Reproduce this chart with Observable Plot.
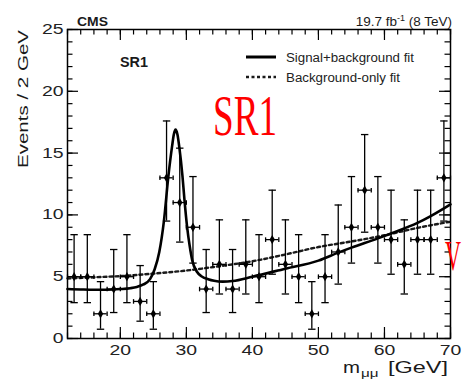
<!DOCTYPE html>
<html>
<head>
<meta charset="utf-8">
<script src="https://cdn.jsdelivr.net/npm/d3@7"></script>
<script src="https://cdn.jsdelivr.net/npm/@observablehq/plot@0.6"></script>
<style>
  body { margin: 0; background: white; }
  #chart { width: 462px; height: 382px; overflow: hidden; }
</style>
</head>
<body>
<div id="chart"></div>
<script>
// ---- data ----
const massBins = [13,15,17,19,21,23,25,27,29,31,33,35,37,39,41,43,45,47,49,51,53,55,57,59,61,63,65,67,69];
const counts   = [5,5,2,4,5,3,2,13,11,9,4,6,4,6,5,8,6,5,2,5,7,9,12,9,8,6,8,8,13];
const errLo    = [2.9,2.9,0.75,2.1,2.9,1.4,0.75,9.5,7.8,6.1,2.1,3.6,2.1,3.6,2.9,5.2,3.6,2.9,0.75,2.9,4.4,6.1,8.6,6.1,5.2,3.6,5.2,5.2,9.5];
const errHi    = [8.4,8.4,4.6,7.2,8.4,5.9,4.6,17.6,15.4,13.1,7.2,9.6,7.2,9.6,8.4,12.0,9.6,8.4,4.6,8.4,10.8,13.1,16.5,13.1,12.0,9.6,12.0,12.0,17.6];
const binHalfWidth = 1; // Events / 2 GeV

// Signal+background fit (solid)
const sbMass = [12,14,16,18,20,21.5,22.5,23.5,24.5,25.2,25.9,26.6,27.25,27.85,28.1,28.36,28.65,28.95,29.4,29.7,30.1,30.5,30.9,31.6,32.4,33.3,34.2,35.5,37,40,45,50,53,55,59,61,65,67,70];
const sbFit  = [4.0,3.97,3.95,3.95,4.0,4.07,4.17,4.37,4.8,5.6,7.0,9.5,13.0,15.6,16.5,16.9,16.5,15.4,13.2,11.3,9.1,7.5,6.3,5.4,5.0,4.8,4.67,4.6,4.65,5.0,5.65,6.3,6.95,7.35,8.1,8.5,9.35,9.9,10.85];

// Background-only fit (dashed)
const bMass = [12,16,20,25,30,35,40,45,50,55,60,65,70];
const bFit  = [4.85,4.95,5.05,5.25,5.5,5.85,6.25,6.8,7.4,7.85,8.35,8.95,9.45];

// axis ticks
const xMajorTicks = [20,30,40,50,60,70];
const xMinorTicks = d3.range(12, 70.1, 2);
const yMajorTicks = [0,5,10,15,20,25];
const yMinorTicks = d3.range(0, 25.1, 1);

// ---- tables ----
const points = massBins.map((m, i) => ({m, n: counts[i], lo: errLo[i], hi: errHi[i]}));
const sbLine = sbMass.map((m, i) => ({m, v: sbFit[i]}));
const bLine  = bMass.map((m, i) => ({m, v: bFit[i]}));

// ---- layout ----
const W = 462, H = 382, mL = 67, mR = 12, mT = 29, mB = 44;
const frameW = W - mL - mR, frameH = H - mT - mB;
const majorLen = 11, minorLen = 5.5;

const hcap = {draw(ctx) { ctx.moveTo(-3.7, 0); ctx.lineTo(3.7, 0); }};
const vcap = {draw(ctx) { ctx.moveTo(0, -2.3); ctx.lineTo(0, 2.3); }};

const svg = Plot.plot({
  width: W, height: H,
  marginLeft: mL, marginRight: mR, marginTop: mT, marginBottom: mB,
  style: {fontFamily: "'Liberation Sans', Arial, sans-serif", fontSize: "14px", color: "#1a1a1a", background: "white", overflow: "visible"},
  x: {domain: [12, 70], ticks: xMajorTicks, tickSize: 0, tickPadding: 7, label: null},
  y: {domain: [0, 25], ticks: yMajorTicks, tickSize: 0, tickPadding: 4, label: null},
  marks: [
    // frame ticks (inward), all four sides
    Plot.tickX(xMinorTicks, {x: d => d, insetTop: frameH - minorLen, stroke: "black", strokeWidth: 1.2}),
    Plot.tickX(xMajorTicks, {x: d => d, insetTop: frameH - majorLen, stroke: "black", strokeWidth: 1.2}),
    Plot.tickX(xMinorTicks, {x: d => d, insetBottom: frameH - minorLen, stroke: "black", strokeWidth: 1.2}),
    Plot.tickX(xMajorTicks, {x: d => d, insetBottom: frameH - majorLen, stroke: "black", strokeWidth: 1.2}),
    Plot.tickY(yMinorTicks, {y: d => d, insetRight: frameW - minorLen, stroke: "black", strokeWidth: 1.2}),
    Plot.tickY(yMajorTicks, {y: d => d, insetRight: frameW - majorLen, stroke: "black", strokeWidth: 1.2}),
    Plot.tickY(yMinorTicks, {y: d => d, insetLeft: frameW - minorLen, stroke: "black", strokeWidth: 1.2}),
    Plot.tickY(yMajorTicks, {y: d => d, insetLeft: frameW - majorLen, stroke: "black", strokeWidth: 1.2}),
    // fits
    Plot.line(bLine, {x: "m", y: "v", curve: "monotone-x", stroke: "#1a1a1a", strokeWidth: 2.4, strokeDasharray: "3,3"}),
    Plot.line(sbLine, {x: "m", y: "v", curve: "monotone-x", stroke: "black", strokeWidth: 2.6}),
    // data error bars
    Plot.ruleX(points, {x: "m", y1: "lo", y2: "hi", stroke: "black", strokeWidth: 1.3}),
    Plot.dot(points, {x: "m", y: "hi", symbol: hcap, fill: "none", stroke: "black", strokeWidth: 1.3}),
    Plot.dot(points, {x: "m", y: "lo", symbol: hcap, fill: "none", stroke: "black", strokeWidth: 1.3}),
    Plot.ruleY(points, {y: "n", x1: d => d.m - binHalfWidth, x2: d => d.m + binHalfWidth, stroke: "black", strokeWidth: 1.3}),
    Plot.dot(points, {x: d => d.m - binHalfWidth, y: "n", symbol: vcap, fill: "none", stroke: "black", strokeWidth: 1.3}),
    Plot.dot(points, {x: d => d.m + binHalfWidth, y: "n", symbol: vcap, fill: "none", stroke: "black", strokeWidth: 1.3}),
    Plot.dot(points, {x: "m", y: "n", symbol: "diamond", r: 2.8, fill: "black", stroke: "none"}),
    Plot.frame({stroke: "black", strokeWidth: 1.5})
  ]
});

document.getElementById("chart").appendChild(svg);

// stretch tick labels like the reference's wide font
d3.select(svg).selectAll('g[aria-label^="x-axis"] text, g[aria-label^="y-axis"] text').each(function() {
  const t = this.textContent.trim();
  if (t.length) d3.select(this).attr("textLength", t.length * 10.8).attr("lengthAdjust", "spacingAndGlyphs").attr("fill", "#222");
});

// ---- annotations ----
const s = d3.select(svg);
function addText(opts) {
  const t = s.append("text")
    .attr("x", opts.x ?? 0).attr("y", opts.y ?? 0)
    .attr("font-family", opts.family ?? "'Liberation Sans', Arial, sans-serif")
    .attr("font-size", opts.size)
    .attr("font-weight", opts.weight ?? "normal")
    .attr("fill", opts.fill ?? "#1a1a1a")
    .attr("text-anchor", opts.anchor ?? "start")
    .text(opts.text);
  if (opts.length) t.attr("textLength", opts.length).attr("lengthAdjust", "spacingAndGlyphs");
  if (opts.transform) t.attr("transform", opts.transform);
  return t;
}

// y-axis title
addText({text: "Events / 2 GeV", size: 15.5, anchor: "end", length: 138, transform: "translate(28,30) rotate(-90)"});
// x-axis title m_μμ [GeV]
addText({text: "m", x: 343, y: 373, size: 16, length: 17});
addText({text: "μμ", x: 361, y: 377, size: 10, length: 17.5});
addText({text: "[GeV]", x: 388, y: 373, size: 16, length: 60});

// CMS and lumi
addText({text: "CMS", x: 77, y: 26, size: 13, weight: "bold", length: 31});
const lumi = s.append("text").attr("x", 452).attr("y", 26).attr("text-anchor", "end")
  .attr("font-family", "'Liberation Sans', Arial, sans-serif").attr("font-size", 13.5).attr("fill", "#1a1a1a");
lumi.append("tspan").text("19.7 fb");
lumi.append("tspan").attr("dy", -5).attr("font-size", 9).text("-1");
lumi.append("tspan").attr("dy", 5).text(" (8 TeV)");

// black SR1 label
addText({text: "SR1", x: 120, y: 67, size: 14, weight: "bold", length: 28});

// legend
s.append("line").attr("x1", 246).attr("x2", 276).attr("y1", 57).attr("y2", 57).attr("stroke", "black").attr("stroke-width", 3);
s.append("line").attr("x1", 246).attr("x2", 276).attr("y1", 77).attr("y2", 77).attr("stroke", "#1a1a1a").attr("stroke-width", 2.4).attr("stroke-dasharray", "3,2.5");
addText({text: "Signal+background fit", x: 286, y: 61.5, size: 12.5, length: 128, fill: "#222"});
addText({text: "Background-only fit", x: 286, y: 81.5, size: 12.5, length: 114, fill: "#222"});

// red overlay labels
addText({text: "SR1", x: 0, y: 0, size: 38, family: "'Liberation Serif', 'Times New Roman', serif", fill: "red", length: 64, transform: "translate(213,135) scale(1,1.5)"});
addText({text: "V", x: 0, y: 0, size: 22, family: "'Liberation Serif', 'Times New Roman', serif", fill: "red", length: 16, transform: "translate(445,270) scale(1,1.9)"});
</script>
</body>
</html>
